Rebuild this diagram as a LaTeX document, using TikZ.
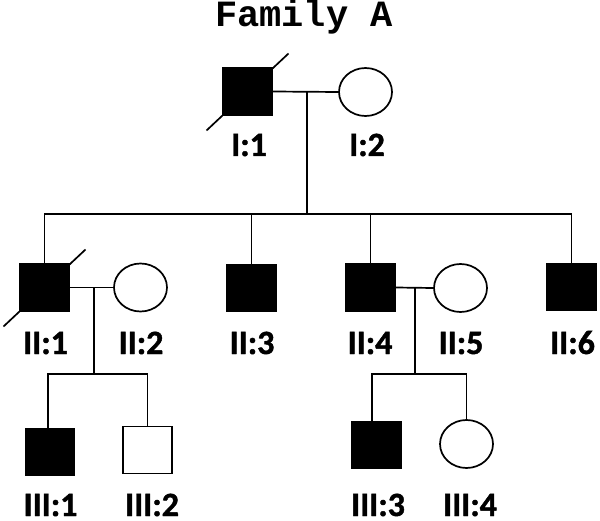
\documentclass[tikz,border=0pt]{standalone}
\usepackage{fontspec}
\newfontfamily\lblfont{Carlito}[BoldFeatures={FakeBold=1.3}]
\newfontfamily\titlefont{Liberation Mono}
\usetikzlibrary{shapes.geometric}
\begin{document}
\begin{tikzpicture}[x=1bp,y=-1bp, line width=1.7bp,
  male/.style={draw, rectangle, inner sep=0, minimum width=49bp, minimum height=47bp, fill=white},
  affected/.style={fill=black},
  female/.style={draw, ellipse, inner sep=0, minimum width=53bp, minimum height=48bp, fill=white},
  lbl/.style={font=\lblfont\bfseries\fontsize{34bp}{34bp}\selectfont, anchor=base, inner sep=0},
  deceased/.style={line width=1.7bp}
  ]
\useasboundingbox (0,0) rectangle (600,521);
\node[font=\titlefont\bfseries\fontsize{37bp}{37bp}\selectfont, anchor=base, inner sep=0] (title) at (304,26.5) {Family A};

% generation I
\node[male, affected] (I1) at (247.5,91.5) {};
\node[female] (I2) at (365.5,92) {};
% generation II
\node[male, affected] (II1) at (44.5,287.5) {};
\node[female] (II2) at (140.5,287.5) {};
\node[male, affected] (II3) at (251.5,288) {};
\node[male, affected] (II4) at (370.5,287.5) {};
\node[female] (II5) at (460.5,288) {};
\node[male, affected] (II6) at (571.5,287) {};
% generation III
\node[male, affected] (III1) at (50,452) {};
\node[male] (III2) at (147.5,450) {};
\node[male, affected] (III3) at (376.5,445) {};
\node[female] (III4) at (466.5,444) {};

% deceased slashes
\draw[deceased] ([shift={(-41,39)}]I1.center) -- ([shift={(41,-38)}]I1.center);
\draw[deceased] ([shift={(-41,39)}]II1.center) -- ([shift={(41,-38)}]II1.center);

% couple I:1 - I:2
\draw (I1.east) -- (I2.west);
\coordinate (m1) at (307,91.75);
\coordinate (s1) at (307,214);
\draw (m1) -- (s1);
\draw (II1.north) |- (s1) -| (II6.north);
\draw (II3.north) -- (II3.north |- s1);
\draw (II4.north) -- (II4.north |- s1);

% couple II:1 - II:2
\draw (II1.east) -- (II2.west);
\coordinate (m2) at (94,287.5);
\coordinate (s2) at (94,374);
\draw (m2) -- (s2);
\draw ([xshift=-2bp]III1.north) |- (s2) -| (III2.north);

% couple II:4 - II:5
\draw (II4.east) -- (II5.west);
\coordinate (m3) at (415,287.75);
\coordinate (s3) at (415,374);
\draw (m3) -- (s3);
\draw ([xshift=-4.5bp]III3.north) |- (s3) -| (III4.north);

% labels
\node[lbl] (lI1) at (249,156) {I:1};
\node[lbl] (lI2) at (367,156) {I:2};
\node[lbl] (lII1) at (45.5,354) {II:1};
\node[lbl] (lII2) at (141,354) {II:2};
\node[lbl] (lII3) at (252,354) {II:3};
\node[lbl] (lII4) at (370,354) {II:4};
\node[lbl] (lII5) at (461,354) {II:5};
\node[lbl] (lII6) at (572.5,354) {II:6};
\node[lbl] (lIII1) at (50.5,516) {III:1};
\node[lbl] (lIII2) at (152,516) {III:2};
\node[lbl] (lIII3) at (378,516) {III:3};
\node[lbl] (lIII4) at (470,516) {III:4};
\end{tikzpicture}
\end{document}
